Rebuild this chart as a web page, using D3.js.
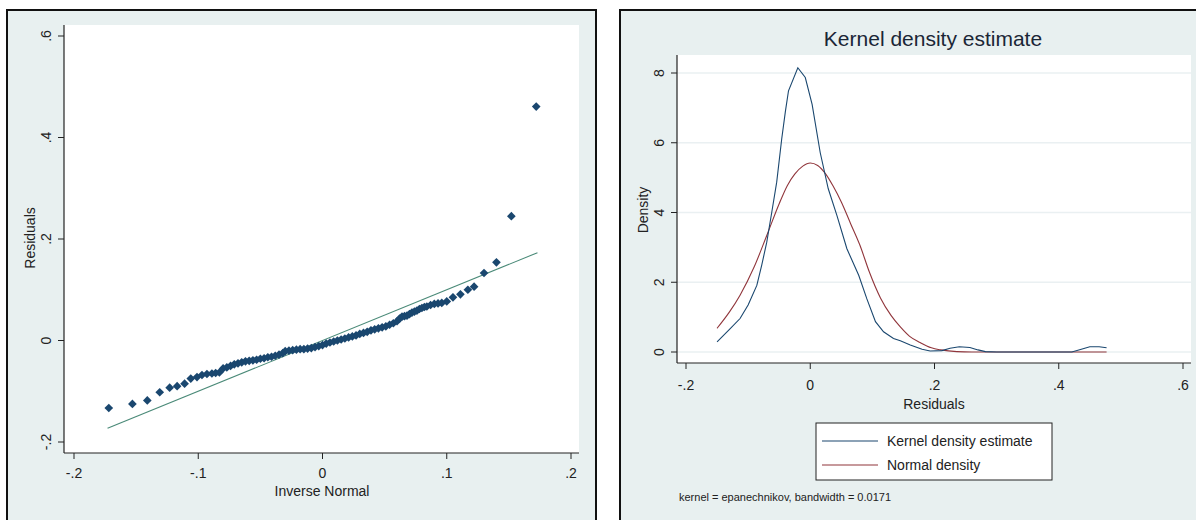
<!DOCTYPE html>
<html>
<head>
<meta charset="utf-8">
<script src="https://cdn.jsdelivr.net/npm/d3@7"></script>
<style>
  body { margin: 0; background: #ffffff; }
  svg { display: block; font-family: "Liberation Sans", Arial, sans-serif; }
</style>
</head>
<body>
<div class="chart"></div>
<script>
// qnorm residuals: [inverse normal, residual]
var qqPoints = [
  [-0.172,-0.133],[-0.153,-0.125],[-0.141,-0.118],[-0.131,-0.102],[-0.123,-0.093],
  [-0.117,-0.090],[-0.111,-0.085],[-0.106,-0.075],[-0.101,-0.072],[-0.097,-0.068],
  [-0.093,-0.066],[-0.089,-0.065],[-0.086,-0.064],[-0.083,-0.063],[-0.080,-0.055],
  [-0.077,-0.053],[-0.074,-0.050],[-0.071,-0.047],[-0.068,-0.045],[-0.065,-0.043],
  [-0.062,-0.041],[-0.059,-0.040],[-0.056,-0.039],[-0.053,-0.038],[-0.050,-0.036],
  [-0.047,-0.035],[-0.044,-0.033],[-0.041,-0.032],[-0.038,-0.030],[-0.035,-0.028],
  [-0.032,-0.025],[-0.030,-0.021],[-0.027,-0.020],[-0.024,-0.019],[-0.021,-0.018],
  [-0.018,-0.017],[-0.015,-0.017],[-0.012,-0.016],[-0.009,-0.015],[-0.006,-0.013],
  [-0.003,-0.011],[0.000,-0.009],[0.003,-0.006],[0.006,-0.004],[0.009,-0.002],
  [0.012,0.000],[0.015,0.002],[0.018,0.004],[0.021,0.006],[0.024,0.008],
  [0.027,0.010],[0.030,0.013],[0.033,0.015],[0.036,0.017],[0.039,0.020],
  [0.042,0.022],[0.045,0.024],[0.048,0.026],[0.051,0.028],[0.054,0.031],
  [0.057,0.034],[0.060,0.038],[0.062,0.043],[0.064,0.047],[0.066,0.048],
  [0.068,0.049],[0.070,0.052],[0.072,0.055],[0.074,0.057],[0.076,0.059],
  [0.078,0.062],[0.080,0.064],[0.082,0.066],[0.084,0.067],[0.087,0.070],
  [0.090,0.072],[0.093,0.073],[0.096,0.074],[0.100,0.077],[0.105,0.085],
  [0.111,0.091],[0.117,0.100],[0.122,0.106],[0.130,0.133],[0.140,0.154],
  [0.152,0.245],[0.172,0.461]
];
var qqLine = [[-0.173,-0.173],[0.173,0.173]];

// kernel density and normal density: [residual, density]
var kdensity = [
  [-0.150,0.29],[-0.130,0.65],[-0.113,0.96],[-0.100,1.35],[-0.086,1.91],[-0.078,2.50],
  [-0.070,3.15],[-0.062,4.00],[-0.054,4.87],[-0.046,6.10],[-0.040,6.90],[-0.035,7.49],
  [-0.020,8.15],[-0.008,7.87],[0.003,7.10],[0.016,5.72],[0.029,4.68],[0.043,3.91],
  [0.059,2.96],[0.078,2.20],[0.091,1.53],[0.105,0.87],[0.118,0.58],[0.134,0.39],
  [0.145,0.32],[0.161,0.20],[0.180,0.08],[0.193,0.03],[0.212,0.04],[0.225,0.11],
  [0.240,0.15],[0.257,0.13],[0.270,0.06],[0.282,0.01],[0.300,0],[0.400,0],
  [0.421,0],[0.435,0.07],[0.450,0.15],[0.465,0.15],[0.477,0.12]
];
var ndensity = [
  [-0.150,0.68],[-0.130,1.15],[-0.113,1.63],[-0.090,2.45],[-0.070,3.34],[-0.050,4.25],
  [-0.037,4.77],[-0.025,5.10],[-0.012,5.33],[0.000,5.42],[0.012,5.35],[0.025,5.10],
  [0.037,4.75],[0.050,4.30],[0.065,3.68],[0.080,3.06],[0.095,2.30],[0.113,1.55],
  [0.130,1.05],[0.145,0.72],[0.160,0.45],[0.177,0.27],[0.195,0.12],[0.210,0.06],
  [0.236,0.01],[0.260,0],[0.300,0],[0.400,0],[0.477,0]
];

var leftXTicks = [-0.2, -0.1, 0, 0.1, 0.2];
var leftXLabels = ["-.2", "-.1", "0", ".1", ".2"];
var leftYTicks = [-0.2, 0, 0.2, 0.4, 0.6];
var leftYLabels = ["-.2", "0", ".2", ".4", ".6"];
var rightXTicks = [-0.2, 0, 0.2, 0.4, 0.6];
var rightXLabels = ["-.2", "0", ".2", ".4", ".6"];
var rightYTicks = [0, 2, 4, 6, 8];
var rightYLabels = ["0", "2", "4", "6", "8"];
var legendNames = ["Kernel density estimate", "Normal density"];

var bg = "#e8f0f0";
var navy = "#1a476f";
var maroon = "#90353b";

var svg = d3.select(".chart")
  .append("svg")
  .attr("width", 1196)
  .attr("height", 520);

// ---------- left panel: qnorm ----------
svg.append("rect")
  .attr("x", 7).attr("y", 10).attr("width", 589).attr("height", 530)
  .attr("fill", bg).attr("stroke", "#111").attr("stroke-width", 2);

svg.append("rect")
  .attr("x", 64).attr("y", 25).attr("width", 515).attr("height", 428)
  .attr("fill", "#ffffff");

var xL = d3.scaleLinear().domain([-0.2, 0.2]).range([74, 571]);
var yL = d3.scaleLinear().domain([-0.2, 0.6]).range([442, 36]);

var left = svg.append("g");

left.append("line")
  .attr("x1", 64).attr("x2", 64).attr("y1", 25).attr("y2", 453)
  .attr("stroke", "#222").attr("stroke-width", 1.2);
left.append("line")
  .attr("x1", 64).attr("x2", 579).attr("y1", 453).attr("y2", 453)
  .attr("stroke", "#222").attr("stroke-width", 1.2);

left.selectAll(".ytick").data(leftYTicks).enter().append("line")
  .attr("x1", 58).attr("x2", 64)
  .attr("y1", d => yL(d)).attr("y2", d => yL(d))
  .attr("stroke", "#222");
left.selectAll(".ylab").data(leftYTicks).enter().append("text")
  .attr("transform", d => `translate(51, ${yL(d)}) rotate(-90)`)
  .attr("text-anchor", "middle")
  .attr("font-size", 14).attr("fill", "#222")
  .text((d, i) => leftYLabels[i]);

left.selectAll(".xtick").data(leftXTicks).enter().append("line")
  .attr("x1", d => xL(d)).attr("x2", d => xL(d))
  .attr("y1", 453).attr("y2", 459)
  .attr("stroke", "#222");
left.selectAll(".xlab").data(leftXTicks).enter().append("text")
  .attr("x", d => xL(d)).attr("y", 478)
  .attr("text-anchor", "middle")
  .attr("font-size", 14).attr("fill", "#222")
  .text((d, i) => leftXLabels[i]);

left.append("text")
  .attr("x", 322).attr("y", 496)
  .attr("text-anchor", "middle").attr("font-size", 14).attr("fill", "#222")
  .text("Inverse Normal");
left.append("text")
  .attr("transform", "translate(35, 238) rotate(-90)")
  .attr("text-anchor", "middle").attr("font-size", 14).attr("fill", "#222")
  .text("Residuals");

left.append("path")
  .datum(qqLine)
  .attr("d", d3.line().x(d => xL(d[0])).y(d => yL(d[1])))
  .attr("fill", "none").attr("stroke", "#4a8a78").attr("stroke-width", 1.1);

var diamond = d3.symbol().type(d3.symbolDiamond2).size(48);
left.selectAll(".pt").data(qqPoints).enter().append("path")
  .attr("d", diamond)
  .attr("transform", d => `translate(${xL(d[0])}, ${yL(d[1])})`)
  .attr("fill", navy);

// ---------- right panel: kdensity ----------
svg.append("rect")
  .attr("x", 620).attr("y", 10).attr("width", 600).attr("height", 530)
  .attr("fill", bg).attr("stroke", "#111").attr("stroke-width", 2);

svg.append("rect")
  .attr("x", 677).attr("y", 55).attr("width", 514).attr("height", 308)
  .attr("fill", "#ffffff");

var xR = d3.scaleLinear().domain([-0.2, 0.6]).range([686, 1183]);
var yR = d3.scaleLinear().domain([0, 8]).range([352, 73]);

var right = svg.append("g");

right.append("text")
  .attr("x", 933).attr("y", 46)
  .attr("text-anchor", "middle").attr("font-size", 21).attr("fill", "#1a2636")
  .text("Kernel density estimate");

right.selectAll(".grid").data(rightYTicks).enter().append("line")
  .attr("x1", 677).attr("x2", 1191)
  .attr("y1", d => yR(d)).attr("y2", d => yR(d))
  .attr("stroke", "#eaf0f2").attr("stroke-width", 1.5);

right.append("line")
  .attr("x1", 677).attr("x2", 677).attr("y1", 55).attr("y2", 363)
  .attr("stroke", "#222").attr("stroke-width", 1.2);
right.append("line")
  .attr("x1", 677).attr("x2", 1191).attr("y1", 363).attr("y2", 363)
  .attr("stroke", "#222").attr("stroke-width", 1.2);

right.selectAll(".ytick").data(rightYTicks).enter().append("line")
  .attr("x1", 671).attr("x2", 677)
  .attr("y1", d => yR(d)).attr("y2", d => yR(d))
  .attr("stroke", "#222");
right.selectAll(".ylab").data(rightYTicks).enter().append("text")
  .attr("transform", d => `translate(664, ${yR(d)}) rotate(-90)`)
  .attr("text-anchor", "middle")
  .attr("font-size", 14).attr("fill", "#222")
  .text((d, i) => rightYLabels[i]);

right.selectAll(".xtick").data(rightXTicks).enter().append("line")
  .attr("x1", d => xR(d)).attr("x2", d => xR(d))
  .attr("y1", 363).attr("y2", 369)
  .attr("stroke", "#222");
right.selectAll(".xlab").data(rightXTicks).enter().append("text")
  .attr("x", d => xR(d)).attr("y", 390)
  .attr("text-anchor", "middle")
  .attr("font-size", 14).attr("fill", "#222")
  .text((d, i) => rightXLabels[i]);

right.append("text")
  .attr("x", 934).attr("y", 409)
  .attr("text-anchor", "middle").attr("font-size", 14).attr("fill", "#222")
  .text("Residuals");
right.append("text")
  .attr("transform", "translate(648, 210) rotate(-90)")
  .attr("text-anchor", "middle").attr("font-size", 14).attr("fill", "#222")
  .text("Density");

var densLine = d3.line().x(d => xR(d[0])).y(d => yR(d[1]));

right.append("path")
  .datum(ndensity)
  .attr("d", densLine.curve(d3.curveMonotoneX))
  .attr("fill", "none").attr("stroke", maroon).attr("stroke-width", 1.1);

right.append("path")
  .datum(kdensity)
  .attr("d", d3.line().x(d => xR(d[0])).y(d => yR(d[1])))
  .attr("fill", "none").attr("stroke", navy).attr("stroke-width", 1.1);

// legend
var legend = right.append("g");
legend.append("rect")
  .attr("x", 816).attr("y", 423).attr("width", 236).attr("height", 57)
  .attr("fill", "#ffffff").attr("stroke", "#222").attr("stroke-width", 1);
var legendColors = [navy, maroon];
legend.selectAll(".lline").data(legendNames).enter().append("line")
  .attr("x1", 822).attr("x2", 878)
  .attr("y1", (d, i) => 441 + i * 24).attr("y2", (d, i) => 441 + i * 24)
  .attr("stroke", (d, i) => legendColors[i]).attr("stroke-width", 1.1);
legend.selectAll(".ltext").data(legendNames).enter().append("text")
  .attr("x", 887).attr("y", (d, i) => 446 + i * 24)
  .attr("font-size", 14).attr("fill", "#222")
  .text(d => d);

right.append("text")
  .attr("x", 679).attr("y", 501)
  .attr("font-size", 11).attr("fill", "#222")
  .text("kernel = epanechnikov, bandwidth = 0.0171");
</script>
</body>
</html>
